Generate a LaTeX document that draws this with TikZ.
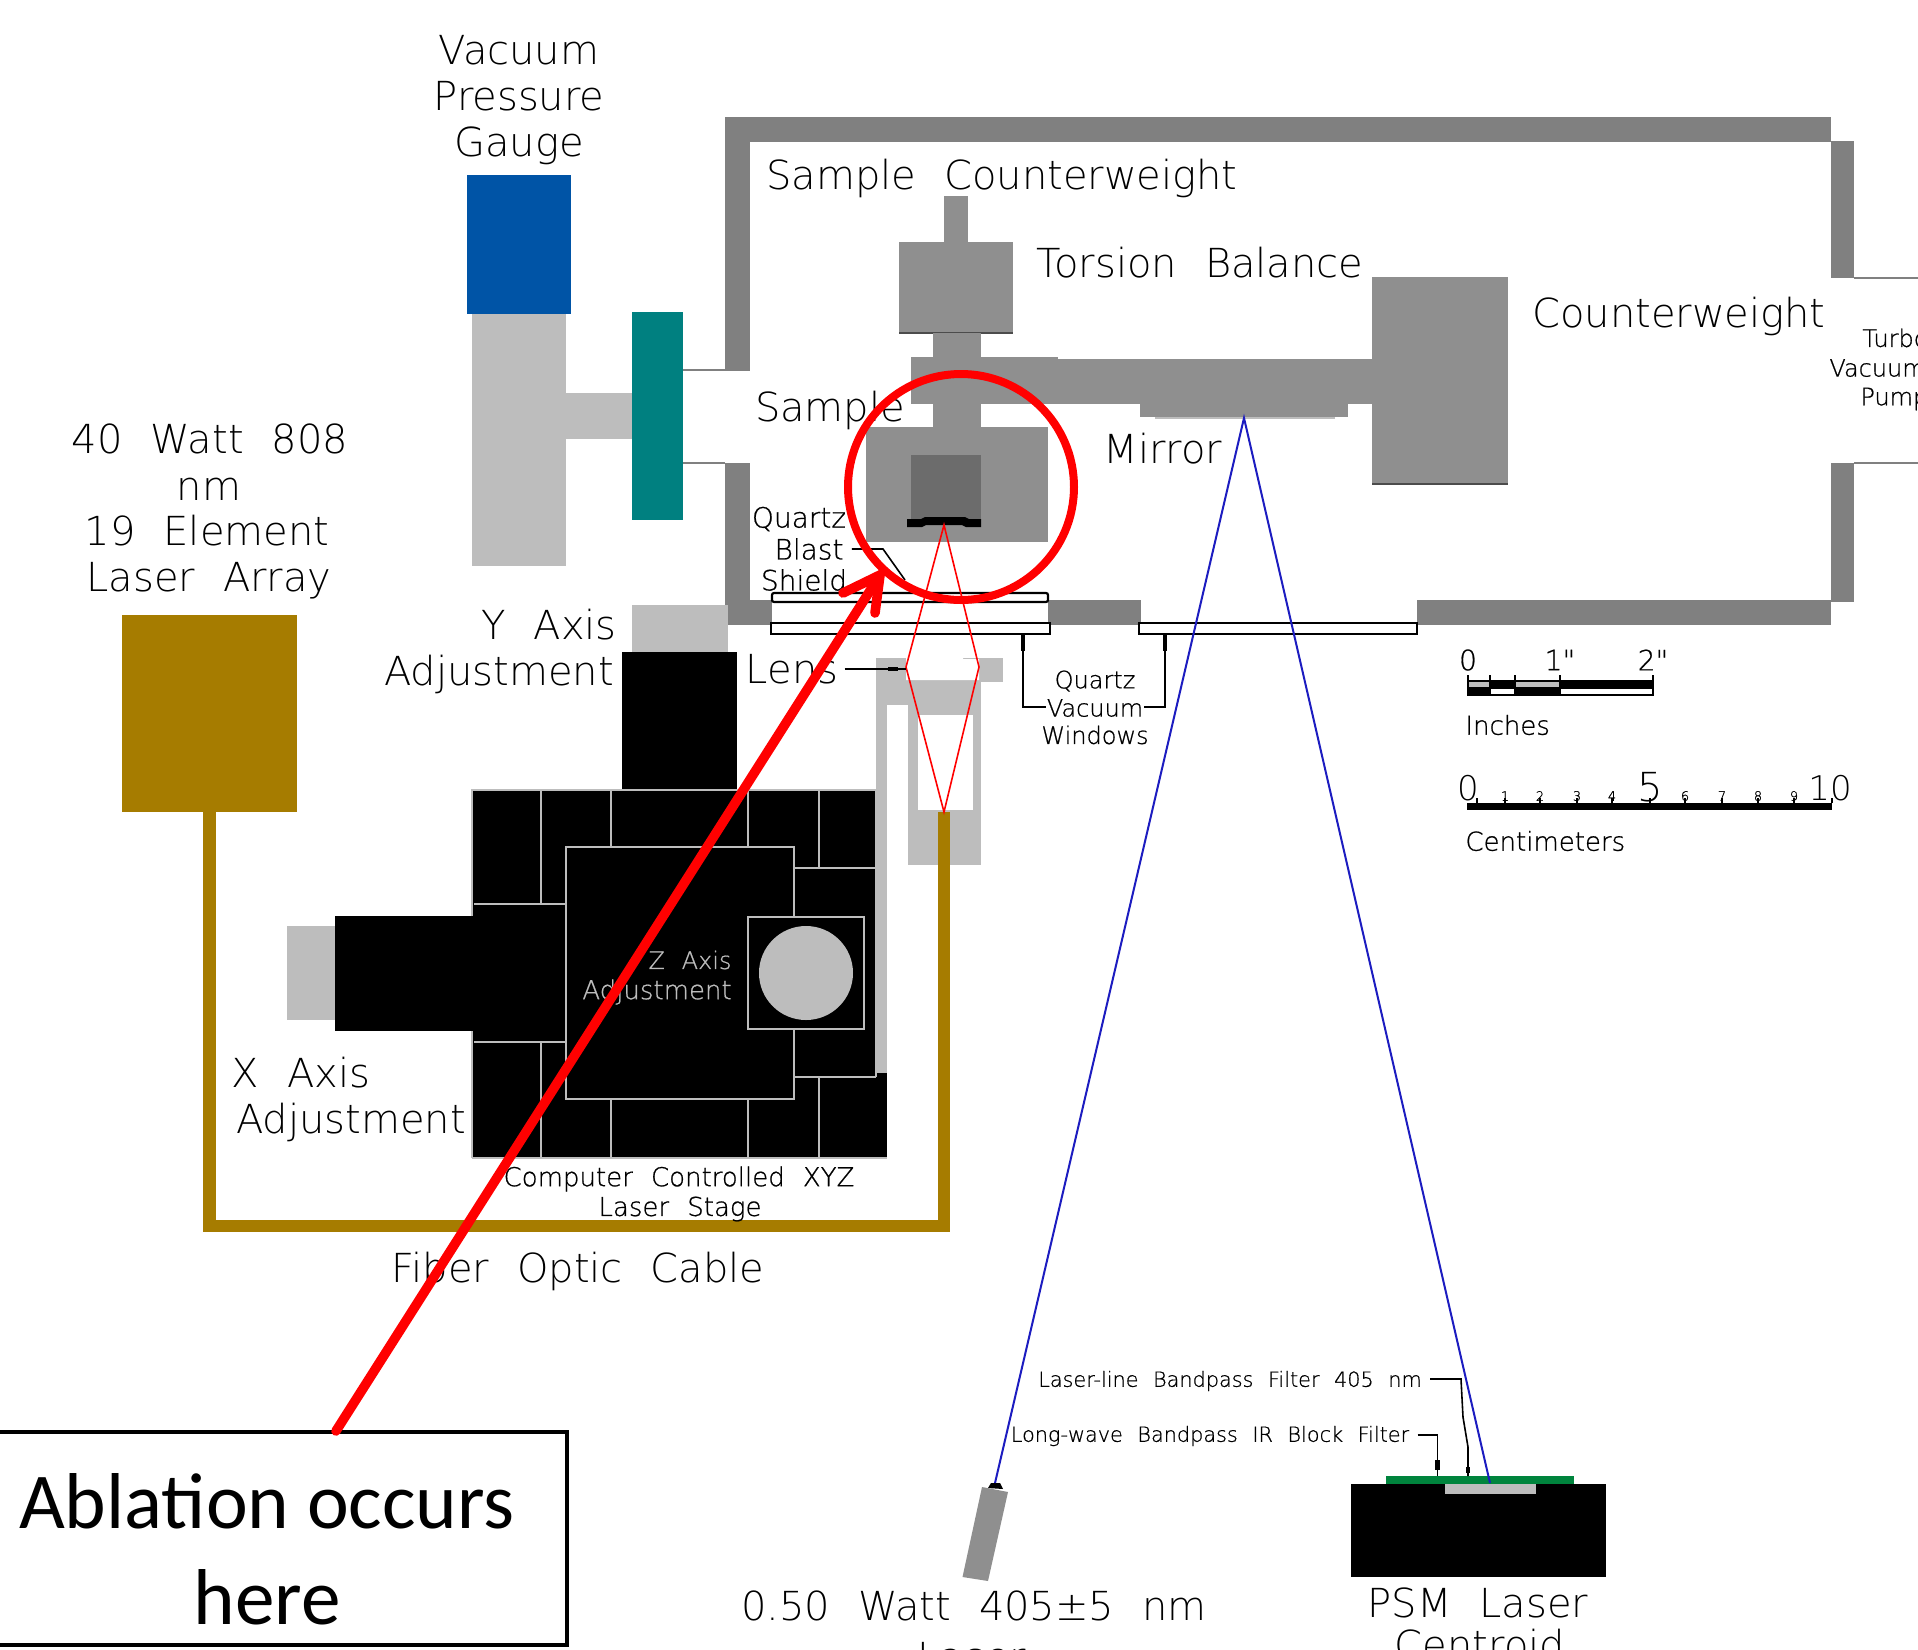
\documentclass[tikz,border=0pt]{standalone}
\usepackage{fontspec}
\newfontfamily\cad[WordSpace=2.2]{DejaVu Sans ExtraLight}
\newfontfamily\cadm[WordSpace=2.2,FakeBold=0.7]{DejaVu Sans ExtraLight}
\newfontfamily\cali{Carlito}
\definecolor{wallc}{HTML}{808080}
\definecolor{balc}{HTML}{8F8F8F}
\definecolor{darkc}{HTML}{6C6C6C}
\definecolor{lightc}{HTML}{BDBDBD}
\definecolor{bluec}{HTML}{0054A6}
\definecolor{tealc}{HTML}{008080}
\definecolor{goldc}{HTML}{A67C00}
\definecolor{greenc}{HTML}{00843D}
\definecolor{beamb}{HTML}{1C1CC0}
\tikzset{
 big/.style={inner sep=0pt,text=black,font=\cad\fontsize{20}{24}\selectfont},
 mid/.style={inner sep=0pt,text=black,font=\cadm\fontsize{14}{17}\selectfont},
 midn/.style={inner sep=0pt,text=black,font=\cadm\fontsize{13}{16}\selectfont},
 sml/.style={inner sep=0pt,text=black,font=\cadm\fontsize{12}{14}\selectfont},
 sma/.style={inner sep=0pt,text=black,font=\cadm\fontsize{13}{15}\selectfont},
 tiny/.style={inner sep=0pt,text=black,font=\cadm\fontsize{10.4}{12}\selectfont},
 dig/.style={inner sep=0pt,text=black,font=\cadm\fontsize{6.5}{7}\selectfont},
 grid/.style={lightc,line width=1.1pt},
 lead/.style={black,line width=0.8pt},
 tip/.style={black,line width=2.4pt},
 win/.style={draw=black,fill=white,line width=1.1pt},
 redb/.style={red,line width=0.8pt},
 blub/.style={beamb,line width=1pt},
 callout/.style={draw=black,line width=2.4pt,fill=white,inner sep=0pt},
 redl/.style={red,line width=4.8pt,line cap=round},
}
\begin{document}
\begin{tikzpicture}[x=0.5pt,y=-0.5pt]
\useasboundingbox (0,0) rectangle (1918,1650);
\fill[white] (0,0) rectangle (1918,1650);
% chamber walls
\fill[wallc] (725,117) rectangle (1831,142);
\fill[wallc] (725,117) rectangle (750,371);
\fill[wallc] (725,463) rectangle (750,625);
\fill[wallc] (725,600) rectangle (772,625);
\fill[wallc] (1048,600) rectangle (1141,625);
\fill[wallc] (1417,600) rectangle (1831,625);
\fill[wallc] (1831,141) rectangle (1854,278);
\fill[wallc] (1831,463) rectangle (1854,602);
\draw[wallc,line width=0.7pt] (683,370) -- (725,370) (683,463) -- (725,463)
  (1854,278) -- (1918,278) (1854,463) -- (1918,463);
% torsion balance
\fill[balc] (944,196) rectangle (968,242);
\fill[balc] (899,242) rectangle (1013,333);
\draw[black!70,line width=0.7pt] (899,333) -- (1013,333);
\fill[balc] (933,333) rectangle (981,427);
\fill[balc] (911,357) rectangle (1058,404);
\fill[balc] (1058,359) rectangle (1372,404);
\fill[balc] (1140,404) rectangle (1348,417);
\draw[lightc,line width=1pt] (1155,418) -- (1335,418);
\fill[balc] (1372,277) rectangle (1508,483);
\draw[black!70,line width=0.7pt] (1372,484) -- (1508,484);
\fill[balc] (866,427) rectangle (1048,542);
\fill[darkc] (911,455) rectangle (981,520);
\fill[black] (907,519) -- (921,519) -- (925,517) -- (965,517) -- (969,519) -- (981,519) -- (981,527) -- (966,527) -- (962,525) -- (926,525) -- (922,527) -- (907,527) -- cycle;
% vacuum windows
\draw[win,rounded corners=1pt] (772,593) rectangle (1048,602);
\draw[win] (771,623) rectangle (1050,634);
\draw[win] (1139,623) rectangle (1417,634);
% gauge and flange
\fill[bluec] (467,175) rectangle (571,314);
\fill[lightc] (472,314) rectangle (566,566);
\fill[lightc] (566,393) rectangle (632,439);
\fill[tealc] (632,312) rectangle (683,520);
% lens mount
\fill[lightc] (876,658) rectangle (1003,682);
\fill[lightc] (876,658) rectangle (887,1076);
\fill[lightc] (876,682) rectangle (981,705);
\fill[lightc] (908,682) rectangle (981,865);
\fill[white] (918,715) rectangle (973,810);
\fill[white] (906,656) -- (963,656) -- (963,659) -- (979,659) -- (979,680) -- (906,680) -- cycle;
% stage
\fill[lightc] (632,605) rectangle (728,652);
\fill[black] (622,652) rectangle (737,790);
\fill[lightc] (287,926) rectangle (337,1020);
\fill[black] (335,916) rectangle (472,1031);
\fill[black] (472,790) rectangle (876,1158);
\fill[black] (876,1073) rectangle (887,1158);
\draw[grid] (472,1158) -- (472,1031) (472,916) -- (472,790) -- (876,790) -- (876,1077);
\draw[grid] (472,1158) -- (887,1158);
\draw[grid] (566,847) rectangle (794,1099);
\draw[grid] (541,790) -- (541,904) (611,790) -- (611,847) (748,790) -- (748,847) (819,790) -- (819,868);
\draw[grid] (794,868) -- (876,868) (474,904) -- (566,904) (474,1042) -- (566,1042);
\draw[grid] (541,1042) -- (541,1158) (611,1099) -- (611,1158) (748,1099) -- (748,1158);
\draw[grid] (794,1077) -- (876,1077) (819,1077) -- (819,1158);
\draw[grid,fill=black] (748,917) rectangle (864,1029);
\fill[lightc] (806,973) circle (47);
% laser array and fibre
\fill[goldc] (122,615) rectangle (297,812);
\fill[goldc] (203,812) rectangle (216,1232);
\fill[goldc] (203,1220) rectangle (950,1232);
\fill[goldc] (938,812) rectangle (950,1232);
% named points
\coordinate (apex) at (944,525);
\coordinate (lensL) at (906,667);
\coordinate (lensR) at (979,667);
\coordinate (fibre) at (944,812);
\coordinate (mirr) at (1244,418);
\coordinate (src) at (995,1483);
\coordinate (psm) at (1490,1483);
% red beams
\draw[redb] (apex) -- (lensL) -- (fibre) -- (lensR) -- cycle;
% sensor and 405 laser
\fill[black] (1351,1484) rectangle (1606,1577);
\fill[greenc] (1386,1476) rectangle (1574,1484);
\fill[lightc] (1445,1484) rectangle (1536,1494);
\fill[balc] (982,1487) -- (1008,1492) -- (988,1581) -- (962.5,1577) -- cycle;
\fill[black] (988,1488) -- (991,1483) -- (1000,1483) -- (1003,1489) -- cycle;
\draw[blub] (src) -- (mirr) -- (psm);
% labels
\node[big] (t1) at (519,50) {Vacuum};
\node[big] (t2) at (519,96) {Pressure};
\node[big] (t3) at (519,146) {Gauge};
\node[big] (t4) at (1002,178) {Sample Counterweight};
\node[big] (t5) at (1200,263) {Torsion Balance};
\node[big] (t6) at (1679,316) {Counterweight};
\node[sml,anchor=west] (t7) at (1862,338) {Turbo};
\node[sml,anchor=west] (t8) at (1829,368) {Vacuum};
\node[sml,anchor=west] (t9) at (1860,399) {Pump};
\node[big] (t10) at (830,410) {Sample};
\node[big] (t11) at (1163,449) {Mirror};
\node[mid] (t12) at (799,519) {Quartz};
\node[mid] (t13) at (809,549) {Blast};
\node[mid] (t14) at (804,580) {Shield};
\node[big] (t15) at (792,669) {Lens};
\node[sml] (t16) at (1095,681) {Quartz};
\node[sml] (t17) at (1095,708) {Vacuum};
\node[sml] (t18) at (1095,735) {Windows};
\node[big] (t19) at (549,625) {Y Axis};
\node[big] (t20) at (499,674) {Adjustment};
\node[big] (t21) at (210,439) {40 Watt 808};
\node[big] (t22) at (209,489) {nm};
\node[big] (t23) at (207,531) {19 Element};
\node[big] (t24) at (209,581) {Laser Array};
\node[big] (t25) at (301,1073) {X Axis};
\node[big] (t26) at (351,1122) {Adjustment};
\node[sml,text=lightc] (t27) at (690,960) {Z Axis};
\node[sma,text=lightc] (t28) at (657,992) {Adjustment};
\node[midn] (t29) at (679,1179) {Computer Controlled XYZ};
\node[midn] (t30) at (680,1209) {Laser Stage};
\node[big] (t31) at (578,1271) {Fiber Optic Cable};
\node[tiny] (t32) at (1230,1381) {Laser-line Bandpass Filter 405 nm};
\node[tiny] (t33) at (1210,1436) {Long-wave Bandpass IR Block Filter};
\node[big] (t34) at (974,1606) {0.50 Watt 405±5 nm};
\node[big] (t35) at (972,1657) {Laser};
\node[big] (t36) at (1478,1603) {PSM Laser};
\node[big] (t37) at (1480,1645) {Centroid};
% leaders
\coordinate (g1) at (883,549); \coordinate (g2) at (905,580);
\draw[lead] (t13.east) ++(8,0) -- (g1) -- (g2);
\coordinate (ln) at (906,669);
\draw[lead] (t15.east) ++(6,0) -- (ln);
\draw[tip] (888,669) -- (898,669);
\coordinate (v1) at (1023,634); \coordinate (v2) at (1165,634);
\coordinate (v3) at (1023,707); \coordinate (v4) at (1165,707);
\draw[lead] (v1) -- (v3) -- (t17.west |- v3);
\draw[lead] (v2) -- (v4) -- (t17.east |- v4);
\draw[tip] (1023,634) -- (1023,651) (1165,634) -- (1165,651);
\coordinate (f1) at (1468,1476); \coordinate (f2) at (1437.5,1476);
\coordinate (h1) at (1461,1379); \coordinate (h2) at (1437.5,1435);
\draw[lead] (t32.east |- h1) ++(8,0) -- (h1) -- (1463,1417) -- (1468,1447) -- (f1);
\draw[lead] (t33.east |- h2) ++(8,0) -- (h2) -- (f2);
\draw[tip] (1468,1467) -- (1468,1473) (1437.5,1460) -- (1437.5,1470);
% scales
\fill[lightc] (1468,681) rectangle (1490,687);
\fill[black] (1490,681) rectangle (1515,687);
\fill[lightc] (1515,681) rectangle (1560,687);
\fill[black] (1560,681) rectangle (1653,687);
\fill[black] (1468,687) rectangle (1490,695);
\fill[black] (1515,687) rectangle (1560,695);
\draw[black,line width=1pt] (1468,675) -- (1468,695) -- (1653,695) -- (1653,675)
  (1468,681) -- (1653,681) (1468,688) -- (1653,688) (1490,675) -- (1490,695) (1515,675) -- (1515,695) (1560,675) -- (1560,695);
\node[mid] (s0) at (1468,660) {0};
\node[mid] (s1) at (1560,660) {1"};
\node[mid] (s2) at (1653,660) {2"};
\node[sma,anchor=west] (s3) at (1465,725) {Inches};
\fill[black] (1467,803) rectangle (1832,810);
\foreach \xx in {1477,1505,1540,1577,1612,1650,1685,1722,1758,1794,1832} \draw[black,line width=0.7pt] (\xx,798) -- (\xx,803);
\node[big,font=\cad\fontsize{17}{20}\selectfont] (s4) at (1468,788) {0};
\node[big] (s5) at (1650,787) {5};
\node[big,font=\cad\fontsize{17}{20}\selectfont] (s6) at (1830,788) {10};
\node[sma,anchor=west] (s7) at (1465,841) {Centimeters};
\node[dig] at (1505,796) {1};
\node[dig] at (1540,796) {2};
\node[dig] at (1577,796) {3};
\node[dig] at (1612,796) {4};
\node[dig] at (1685,796) {6};
\node[dig] at (1722,796) {7};
\node[dig] at (1758,796) {8};
\node[dig] at (1794,796) {9};
% callout
\draw[callout] (-10,1432) rectangle (567,1645);
\node[inner sep=0pt,font=\cali\fontsize{39.6}{46}\selectfont] (ab1) at (267,1501) {Ablation occurs};
\node[inner sep=0pt,font=\cali\fontsize{39.6}{46}\selectfont] (ab2) at (267,1597) {here};
\coordinate (boxtop) at (336,1431);
\coordinate (tipp) at (880,575);
\coordinate (barb1) at (843,593);
\coordinate (barb2) at (875,613);
\draw[redl] (boxtop) -- (tipp);
\draw[redl] (barb1) -- (tipp) -- (barb2);
\draw[red,line width=4pt] (961,487) circle (113);
\end{tikzpicture}
\end{document}
